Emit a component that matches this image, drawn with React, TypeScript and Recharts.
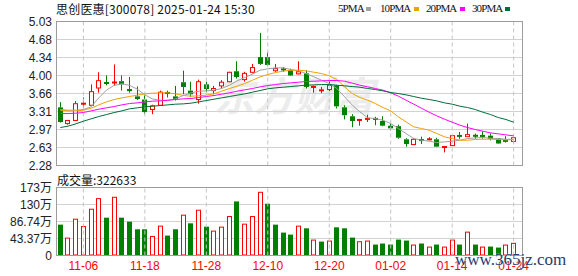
import React from 'react';
import { ComposedChart, Bar, Line, XAxis, YAxis, CartesianGrid, ReferenceLine } from 'recharts';

// ---------- data ----------
const DATES = ['11-01','11-04','11-05','11-06','11-07','11-08','11-11','11-12','11-13','11-14','11-15','11-18','11-19','11-20','11-21','11-22','11-25','11-26','11-27','11-28','11-29','12-02','12-03','12-04','12-05','12-06','12-09','12-10','12-11','12-12','12-13','12-16','12-17','12-18','12-19','12-20','12-23','12-24','12-25','12-26','12-27','12-30','12-31','01-02','01-03','01-06','01-07','01-08','01-09','01-10','01-13','01-14','01-15','01-16','01-17','01-20','01-21','01-22','01-23','01-24'];
const TICK_DATES = ['11-06','11-18','11-28','12-10','12-20','01-02','01-14','01-24'];

const OPEN = [3.39,3.08,3.14,3.45,3.43,3.76,3.86,3.85,3.89,3.74, 3.60,3.54,3.35,3.43,3.68,3.60,3.87,3.71,3.54,3.83, 3.71,3.80,3.88,4.08,3.92,4.06,4.35,4.35,4.09,4.13, 4.10,4.03,4.04,3.77,3.70,3.73,3.81,3.39,3.22,3.14, 3.16,3.18,3.13,3.04,3.03,2.78,2.68,2.78,2.77,2.78, 2.625,2.66,2.86,2.83,2.865,2.86,2.85,2.80,2.76,2.74];
const HIGH = [3.49,3.15,3.51,3.58,3.83,4.06,4.00,4.21,4.00,3.97, 3.79,3.62,3.44,3.71,3.71,3.80,4.09,3.88,3.92,3.88, 3.80,3.91,4.07,4.27,4.07,4.22,4.81,4.44,4.22,4.16, 4.13,4.27,4.10,3.81,3.78,3.90,3.82,3.43,3.26,3.17, 3.25,3.21,3.22,3.08,3.06,2.80,2.80,2.83,2.82,2.81, 2.64,2.85,2.92,3.08,2.89,2.93,2.89,2.80,2.84,2.81];
const LOW = [3.10,3.06,3.13,3.37,3.42,3.67,3.81,3.80,3.71,3.67, 3.53,3.26,3.26,3.42,3.58,3.52,3.64,3.59,3.46,3.68, 3.64,3.75,3.87,3.94,3.88,4.04,4.20,4.18,4.07,4.07, 3.99,4.02,3.75,3.67,3.66,3.70,3.37,3.16,3.01,3.04, 3.11,3.05,3.03,2.95,2.79,2.64,2.67,2.69,2.76,2.63, 2.53,2.65,2.79,2.83,2.79,2.79,2.76,2.69,2.72,2.71];
const CLOSE = [3.11,3.14,3.46,3.47,3.69,3.90,3.85,3.88,3.83,3.70, 3.55,3.30,3.42,3.68,3.65,3.55,3.78,3.64,3.88,3.74, 3.75,3.87,4.06,3.97,4.04,4.15,4.22,4.20,4.13,4.10, 4.00,4.07,3.78,3.79,3.73,3.81,3.41,3.24,3.13,3.16, 3.18,3.16,3.04,2.99,2.81,2.69,2.78,2.75,2.79,2.64, 2.64,2.85,2.83,2.87,2.83,2.83,2.79,2.70,2.74,2.81];
const PREV_CLOSE = 3.40;

// volume in 万 (10k)
const VOLUME = [78.7,45.7,93.9,75.3,119.3,146.4,96.5,149.8,96.5,86.3, 66.9,66.9,49.9,76.2,50.8,66.9,104.1,82.1,116.8,73.6, 63.5,73.6,100.7,137.9,81.2,100.7,162.5,132.0,78.7,58.4, 53.3,76.2,69.4,40.6,35.5,38.1,71.9,69.4,45.7,36.4, 38.1,27.9,30.5,27.9,40.6,38.1,27.9,30.5,22.8,27.9, 22.8,40.6,27.9,60.9,27.9,22.8,22.8,20.3,27.9,32.26];

const MA5 = [3.349,3.336,3.336,3.349,3.400,3.570,3.720,3.810,3.840,3.810, 3.740,3.630,3.550,3.527,3.521,3.553,3.616,3.667,3.699,3.705, 3.718,3.750,3.814,3.896,3.960,4.024,4.100,4.126,4.145,4.145, 4.113,4.087,4.036,3.973,3.909,3.845,3.750,3.591,3.432,3.304, 3.190,3.177,3.145,3.081,2.986,2.891,2.795,2.763,2.744,2.719, 2.731,2.744,2.763,2.795,2.808,2.814,2.801,2.795,2.782,2.776];
const MA10 = [3.336,3.323,3.323,3.336,3.374,3.438,3.495,3.540,3.572,3.597, 3.623,3.648,3.661,3.667,3.667,3.648,3.616,3.604,3.610,3.623, 3.650,3.700,3.750,3.795,3.845,3.909,3.973,4.017,4.056,4.081, 4.100,4.100,4.087,4.062,4.036,3.992,3.922,3.782,3.654,3.578, 3.527,3.463,3.387,3.323,3.209,3.113,3.018,2.986,2.954,2.891, 2.827,2.795,2.763,2.763,2.776,2.782,2.782,2.776,2.770,2.776];
const MA20 = [3.272,3.272,3.279,3.292,3.323,3.355,3.381,3.406,3.438,3.463, 3.476,3.495,3.508,3.514,3.527,3.540,3.553,3.559,3.578,3.597, 3.616,3.642,3.667,3.699,3.725,3.750,3.782,3.807,3.826,3.845, 3.858,3.871,3.884,3.890,3.896,3.903,3.903,3.890,3.852,3.814, 3.782,3.750,3.718,3.667,3.604,3.527,3.451,3.374,3.298,3.228, 3.164,3.107,3.050,3.005,2.967,2.935,2.903,2.884,2.865,2.846];
const MA30 = [3.005,3.031,3.075,3.126,3.171,3.215,3.253,3.291,3.323,3.362, 3.381,3.400,3.413,3.425,3.438,3.451,3.457,3.470,3.495,3.521, 3.546,3.572,3.597,3.623,3.648,3.680,3.712,3.744,3.763,3.775, 3.788,3.801,3.814,3.820,3.826,3.826,3.814,3.801,3.788,3.775, 3.750,3.731,3.705,3.674,3.654,3.629,3.597,3.565,3.540,3.514, 3.476,3.451,3.413,3.387,3.349,3.298,3.253,3.196,3.158,3.107];

const PRICE_TICKS = [2.28, 2.62375, 2.9675, 3.31125, 3.655, 3.99875, 4.3425, 4.68625, 5.03];
const PRICE_LABELS = ['2.28','2.63','2.97','3.31','3.66','4.00','4.34','4.68','5.03'];
const VOL_TICKS = [0, 43.37, 86.74, 130.11, 173.48];
const VOL_LABELS = ['0','43.37万','86.74万','130万','173万'];

const TITLE = '思创医惠[300078] 2025-01-24 15:30';
const VOL_TITLE = '成交量:322633';
const LEGEND_NAMES = ['5PMA','10PMA','20PMA','30PMA'];

// ---------- styles ----------
const RED = '#ff0000';
const GREEN = '#008000';
const MA_COLORS = ['#a0a0a0', '#f0a000', '#ff00ff', '#006e3a'];
const LEGEND_LEFT = [338, 380, 426, 472];
const SWATCH_LEFT = [366, 414, 460, 505];
const NUM_FONT = "'Liberation Sans', Arial, 'Noto Sans CJK SC', sans-serif";
const CJK_FONT = "'Noto Sans CJK SC', 'Liberation Sans', sans-serif";

const data = DATES.map((date, i) => ({
  date,
  open: OPEN[i],
  high: HIGH[i],
  low: LOW[i],
  close: CLOSE[i],
  vol: VOLUME[i],
  volUp: CLOSE[i] >= (i === 0 ? PREV_CLOSE : CLOSE[i - 1]),
  ma5: MA5[i],
  ma10: MA10[i],
  ma20: MA20[i],
  ma30: MA30[i],
}));

const Candle = (props: any) => {
  const { x, y, width, height, payload } = props;
  if (!payload) return null;
  const cx = Math.floor(x + width / 2) + 0.5;
  const top = Math.min(y, y + height);
  const bot = Math.max(y, y + height);
  const { open, close, high, low } = payload;
  const span = high - low || 1;
  const py = (p: number) => top + ((high - p) / span) * (bot - top);
  const up = close >= open;
  const color = up ? RED : GREEN;
  let bTop = py(Math.max(open, close));
  let bBot = py(Math.min(open, close));
  if (bBot - bTop < 2) {
    const m = (bTop + bBot) / 2;
    bTop = m - 1;
    bBot = m + 1;
    return (
      <g>
        <line x1={cx} x2={cx} y1={top} y2={bot} stroke={color} strokeWidth={1} />
        <rect x={cx - 2.5} y={bTop} width={5} height={2} fill={color} />
      </g>
    );
  }
  return (
    <g>
      <line x1={cx} x2={cx} y1={top} y2={bTop} stroke={color} strokeWidth={1} />
      <line x1={cx} x2={cx} y1={bBot} y2={bot} stroke={color} strokeWidth={1} />
      {up ? (
        <rect x={cx - 2} y={bTop} width={4} height={bBot - bTop} fill="#fff" stroke={color} strokeWidth={1} />
      ) : (
        <rect x={cx - 2.5} y={bTop} width={5} height={bBot - bTop} fill={color} />
      )}
    </g>
  );
};

const VolBar = (props: any) => {
  const { x, y, width, height, payload } = props;
  if (!payload || !height) return null;
  const cx = Math.floor(x + width / 2) + 0.5;
  if (payload.volUp) {
    return <rect x={cx - 2} y={y + 0.5} width={4} height={Math.max(height - 1, 0)} fill="#fff" stroke={RED} strokeWidth={1} />;
  }
  return <rect x={cx - 2.5} y={y} width={5} height={height} fill={GREEN} />;
};

const PriceTick = (props: any) => {
  const { y, payload } = props;
  const idx = PRICE_TICKS.indexOf(payload.value);
  return (
    <text x={52} y={y} dy={4.5} textAnchor="end" fontSize={12} fontFamily={NUM_FONT} fill="#222">
      {PRICE_LABELS[idx]}
    </text>
  );
};

const VolTick = (props: any) => {
  const { y, payload } = props;
  const idx = VOL_TICKS.indexOf(payload.value);
  return (
    <text x={52} y={y} dy={4.5} textAnchor="end" fontSize={12} fontFamily={NUM_FONT} fill="#222">
      {VOL_LABELS[idx]}
    </text>
  );
};

const DateTick = (props: any) => {
  const { x, payload } = props;
  return (
    <text x={x} y={100} textAnchor="middle" fontSize={12} fontFamily={NUM_FONT} fill={RED}>
      {payload.value}
    </text>
  );
};

const GRID = '#d2d2d2';
const VGRID = '#c4c4c4';
const BORDER = '#9c9c9c';

export default function App() {
  return (
    <div style={{ position: 'fixed', left: 0, top: 0, width: 578, height: 276, background: '#fff', overflow: 'hidden' }}>
      {/* faint watermark */}
      <div style={{ position: 'absolute', left: 214, top: 70, fontSize: 40, fontWeight: 700, fontStyle: 'italic', color: '#ececec', fontFamily: CJK_FONT, lineHeight: '48px', whiteSpace: 'nowrap' }}>
        东方财富
      </div>

      {/* title */}
      <div style={{ position: 'absolute', left: 56, top: 1, fontSize: 12, lineHeight: '15px', color: '#111', fontFamily: CJK_FONT, whiteSpace: 'nowrap', letterSpacing: 0.2 }}>
        {TITLE}
      </div>

      {/* legend */}
      {LEGEND_NAMES.map((n, i) => (
        <React.Fragment key={n}>
          <div style={{ position: 'absolute', left: LEGEND_LEFT[i], top: 2, fontSize: 11, lineHeight: '13px', color: '#111', fontFamily: "'Liberation Serif', serif", letterSpacing: -0.9, whiteSpace: 'nowrap' }}>
            {n}
          </div>
          <div style={{ position: 'absolute', left: SWATCH_LEFT[i], top: 7, width: 5, height: 4, background: MA_COLORS[i] }} />
        </React.Fragment>
      ))}

      {/* main price chart */}
      <div style={{ position: 'absolute', left: 0, top: 0 }}>
        <ComposedChart width={578} height={172} data={data} margin={{ top: 21.5, right: 55.5, bottom: 6.5, left: 0 }}>
          <CartesianGrid vertical={false} stroke={GRID} />
          <XAxis dataKey="date" hide padding={{ left: 0, right: 5 }} />
          <YAxis
            domain={[2.28, 5.03]}
            ticks={PRICE_TICKS}
            interval={0}
            width={56.5}
            axisLine={false}
            tickLine={false}
            tick={<PriceTick />}
            allowDataOverflow
          />
          {TICK_DATES.map((d) => (
            <ReferenceLine key={d} x={d} stroke={VGRID} strokeDasharray="4 3" />
          ))}
          <Bar dataKey={(d: any) => [d.low, d.high]} shape={<Candle />} isAnimationActive={false} />
          <Line type="linear" dataKey="ma5" stroke={MA_COLORS[0]} strokeWidth={1} dot={false} activeDot={false} isAnimationActive={false} />
          <Line type="linear" dataKey="ma10" stroke={MA_COLORS[1]} strokeWidth={1} dot={false} activeDot={false} isAnimationActive={false} />
          <Line type="linear" dataKey="ma20" stroke={MA_COLORS[2]} strokeWidth={1} dot={false} activeDot={false} isAnimationActive={false} />
          <Line type="linear" dataKey="ma30" stroke={MA_COLORS[3]} strokeWidth={1} dot={false} activeDot={false} isAnimationActive={false} />
        </ComposedChart>
      </div>
      <div style={{ position: 'absolute', left: 56, top: 21, width: 467, height: 145, border: `1px solid ${BORDER}`, boxSizing: 'border-box', pointerEvents: 'none' }} />

      {/* volume title */}
      <div style={{ position: 'absolute', left: 57, top: 172, fontSize: 12, lineHeight: '15px', color: '#111', fontFamily: CJK_FONT, whiteSpace: 'nowrap' }}>
        {VOL_TITLE}
      </div>

      {/* volume chart */}
      <div style={{ position: 'absolute', left: 0, top: 170 }}>
        <ComposedChart width={578} height={106} data={data} margin={{ top: 17.5, right: 55.5, bottom: 0, left: 0 }}>
          <CartesianGrid vertical={false} stroke={GRID} />
          <XAxis
            dataKey="date"
            height={20.5}
            padding={{ left: 0, right: 5 }}
            ticks={TICK_DATES}
            interval={0}
            axisLine={false}
            tickLine={false}
            tick={<DateTick />}
          />
          <YAxis
            domain={[0, 173.48]}
            ticks={VOL_TICKS}
            interval={0}
            width={56.5}
            axisLine={false}
            tickLine={false}
            tick={<VolTick />}
            allowDataOverflow
          />
          {TICK_DATES.map((d) => (
            <ReferenceLine key={d} x={d} stroke={VGRID} strokeDasharray="4 3" />
          ))}
          <Bar dataKey="vol" shape={<VolBar />} isAnimationActive={false} />
        </ComposedChart>
      </div>
      <div style={{ position: 'absolute', left: 56, top: 187, width: 467, height: 69, border: `1px solid ${BORDER}`, boxSizing: 'border-box', pointerEvents: 'none' }} />

      {/* site watermark */}
      <div style={{ position: 'absolute', left: 455, top: 250, fontSize: 17, lineHeight: '20px', color: '#243c6e', fontFamily: "'Liberation Serif', serif", whiteSpace: 'nowrap', textShadow: '0 0 2px #fff' }}>
        www.365jz.com
      </div>
    </div>
  );
}
